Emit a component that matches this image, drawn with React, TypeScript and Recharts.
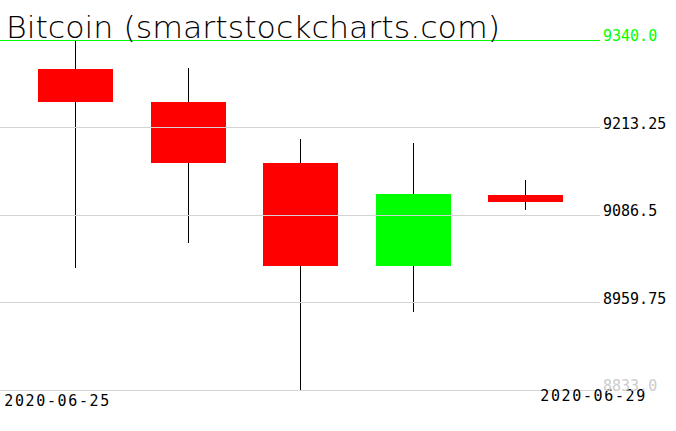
import React from 'react';
import { ComposedChart, Bar, XAxis, YAxis, ReferenceLine } from 'recharts';

const dates = ['2020-06-25', '2020-06-26', '2020-06-27', '2020-06-28', '2020-06-29'];
const opens = [9298, 9250, 9162, 9012, 9116];
const closes = [9250, 9162, 9012, 9117, 9105];
const highs = [9340, 9299, 9197, 9191, 9137];
const lows = [9010, 9046, 8833, 8946, 9094];

const yTicks = [8833, 8959.75, 9086.5, 9213.25, 9340];
const yTickLabels = ['8833.0', '8959.75', '9086.5', '9213.25', '9340.0'];

const title = 'Bitcoin (smartstockcharts.com)';

const data = dates.map((date, i) => ({
  date,
  open: opens[i],
  close: closes[i],
  high: highs[i],
  low: lows[i],
}));

const Candle = (props: any) => {
  const { x, y, width, height, payload } = props;
  const top = Math.min(y, y + height);
  const h = Math.abs(height);
  const { open, close, high, low } = payload;
  const ratio = h / (high - low);
  const bodyTop = top + (high - Math.max(open, close)) * ratio;
  const bodyH = Math.max(Math.abs(open - close) * ratio, 1);
  const cx = Math.floor(x + width / 2) + 0.5;
  const color = close >= open ? '#00ff00' : '#ff0000';
  return (
    <g>
      <line x1={cx} x2={cx} y1={top} y2={top + h} stroke="#000" strokeWidth={1} shapeRendering="crispEdges" />
      <rect x={Math.round(x)} y={bodyTop} width={Math.round(width)} height={bodyH} fill={color} shapeRendering="crispEdges" />
    </g>
  );
};

const DateTick = (props: any) => {
  const { x, y, payload } = props;
  const v = payload.value;
  if (v === dates[0]) {
    return (
      <text x={x - 71} y={y + 14} fontFamily="DejaVu Sans Mono" fontSize={15} fill="#000" textLength={105} lengthAdjust="spacing">
        {v}
      </text>
    );
  }
  if (v === dates[dates.length - 1]) {
    return (
      <text x={x + 120} y={y + 9} textAnchor="end" fontFamily="DejaVu Sans Mono" fontSize={15} fill="#000" textLength={105} lengthAdjust="spacing">
        {v}
      </text>
    );
  }
  return <g />;
};

const PriceTick = (props: any) => {
  const { x, y, payload } = props;
  const i = yTicks.indexOf(payload.value);
  const label = i >= 0 ? yTickLabels[i] : String(payload.value);
  const color = payload.value === 9340 ? '#00ff00' : payload.value === 8833 ? '#cccccc' : '#000000';
  return (
    <text x={x} y={y + 1} fontFamily="DejaVu Sans Mono" fontSize={15} fill={color} textAnchor="start">
      {label}
    </text>
  );
};

export default function App() {
  return (
    <div style={{ position: 'absolute', left: 0, top: 0, width: 676, height: 431, background: '#fff' }}>
      <ComposedChart
        width={676}
        height={431}
        data={data}
        margin={{ top: 40, right: 0, bottom: 0, left: 0 }}
      >
        <XAxis
          dataKey="date"
          type="category"
          height={41}
          interval={0}
          axisLine={false}
          tickLine={false}
          tickSize={0}
          tickMargin={2}
          padding={{ left: 19, right: 18.5 }}
          tick={<DateTick />}
        />
        <YAxis
          orientation="right"
          width={76}
          domain={[8833, 9340]}
          ticks={yTicks}
          allowDataOverflow
          axisLine={false}
          tickLine={false}
          tickSize={0}
          tickMargin={3}
          tick={<PriceTick />}
        />
        <Bar
          dataKey={(d: any) => [d.low, d.high]}
          barSize={75}
          shape={<Candle />}
          isAnimationActive={false}
        />
        {yTicks.slice(0, 4).map((t) => (
          <ReferenceLine key={t} y={t} stroke="#d3d3d3" strokeWidth={1} shapeRendering="crispEdges" />
        ))}
        <ReferenceLine y={9340} stroke="#00ff00" strokeWidth={1} shapeRendering="crispEdges" />
      </ComposedChart>
      <svg width={676} height={60} style={{ position: 'absolute', left: 0, top: 0, pointerEvents: 'none' }}>
        <text x={6} y={38} fontFamily="DejaVu Sans" fontWeight={200} fontSize={30} fill="#000" textLength={494} lengthAdjust="spacingAndGlyphs">
          {title}
        </text>
      </svg>
    </div>
  );
}
